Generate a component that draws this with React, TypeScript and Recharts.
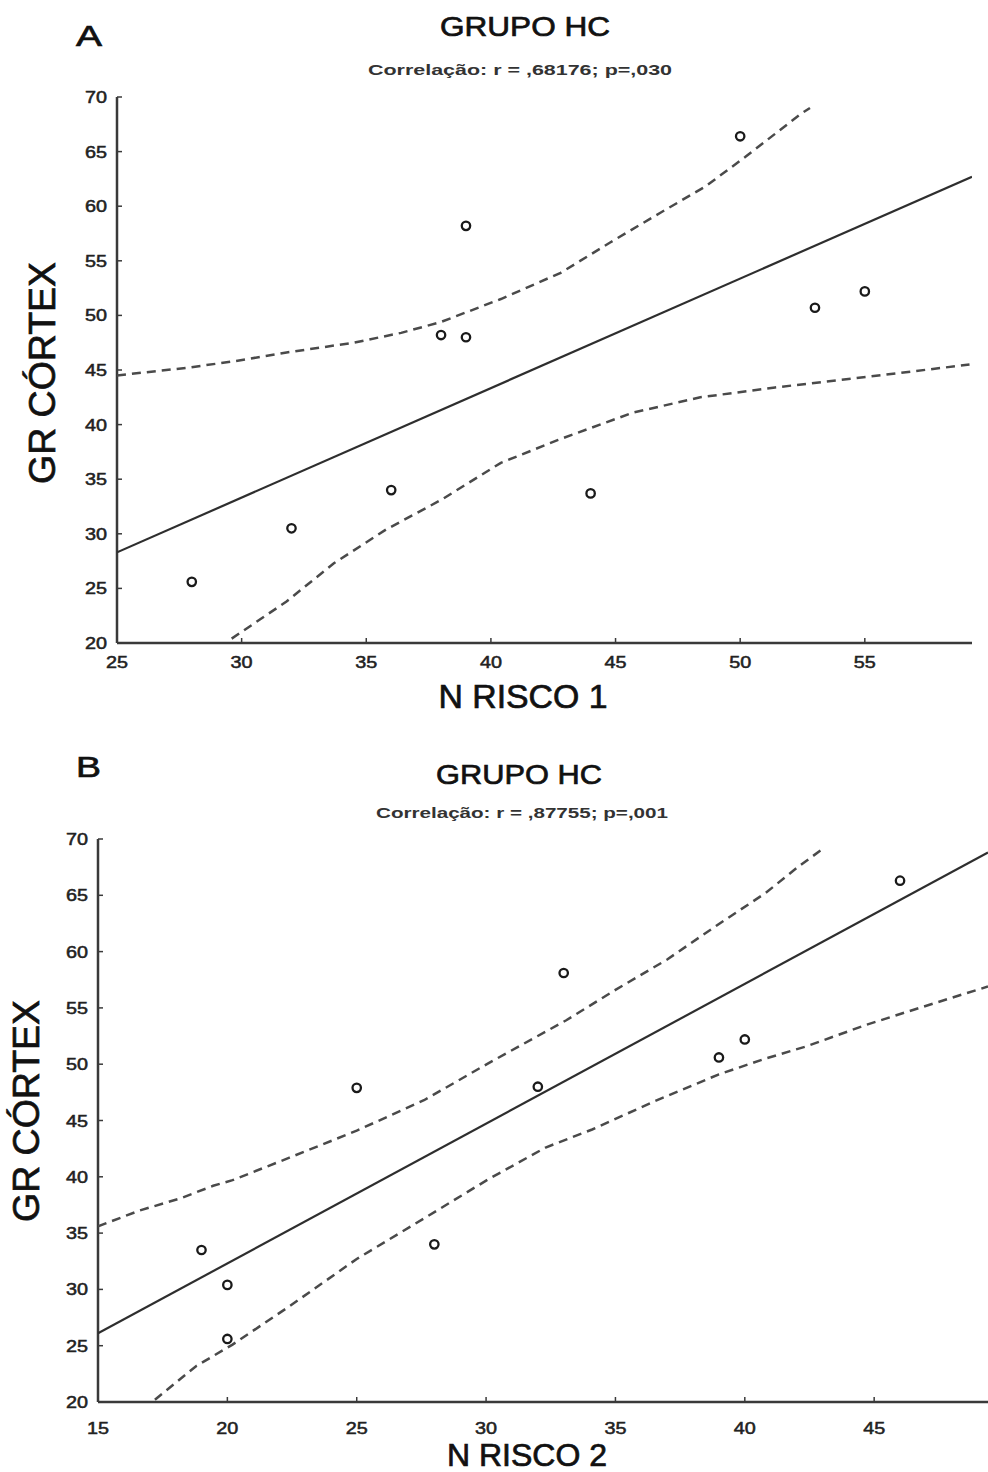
import React from 'react';
import { ScatterChart, Scatter, XAxis, YAxis } from 'recharts';

// ---- data ----
const nRisco1 = [28, 32, 36, 38, 39, 39, 44, 50, 53, 55];
const grCortexA = [25.6, 30.5, 34.0, 48.2, 58.2, 48.0, 33.7, 66.4, 50.7, 52.2];

const nRisco2 = [20, 20, 28, 25, 33, 32, 19, 46, 39, 40];
const grCortexB = [25.6, 30.4, 34.0, 47.9, 58.1, 48.0, 33.5, 66.3, 50.6, 52.2];

const regAx = [25, 59.3];
const regAy = [28.3, 62.7];
const upperAx = [25, 27.8, 29.7, 31.8, 34.5, 36.4, 38.0, 40.4, 42.8, 44.8, 46.8, 48.6, 50.2, 52.4, 52.8];
const upperAy = [44.5, 45.2, 45.8, 46.6, 47.5, 48.4, 49.4, 51.5, 53.9, 56.7, 59.4, 61.8, 64.5, 68.4, 69.0];
const lowerAx = [29.6, 31.8, 33.7, 35.8, 38.0, 40.4, 42.7, 45.7, 48.4, 51.4, 55.2, 59.2];
const lowerAy = [20.4, 23.8, 27.3, 30.4, 33.1, 36.5, 38.6, 41.1, 42.5, 43.4, 44.4, 45.5];

const regBx = [15, 49.4];
const regBy = [26.1, 68.8];
const upperBx = [15, 16.6, 18.2, 19.45, 20.2, 22.4, 25.0, 27.6, 30.1, 33.1, 35.0, 37.0, 38.9, 40.8, 42.1, 43.0];
const upperBy = [35.6, 37.0, 38.1, 39.2, 39.7, 41.7, 44.1, 46.8, 50.1, 53.9, 56.6, 59.3, 62.3, 65.2, 67.6, 69.1];
const lowerBx = [17.2, 18.8, 20.2, 22.4, 25.0, 27.6, 30.1, 32.3, 34.1, 36.5, 39.0, 40.8, 42.4, 44.7, 47.3, 49.4];
const lowerBy = [20.2, 23.2, 25.1, 28.5, 32.7, 36.3, 39.8, 42.6, 44.2, 46.7, 49.1, 50.5, 51.6, 53.5, 55.4, 56.9];

const yTicks = [20, 25, 30, 35, 40, 45, 50, 55, 60, 65, 70];
const xTicksA = [25, 30, 35, 40, 45, 50, 55];
const xTicksB = [15, 20, 25, 30, 35, 40, 45];

const zip = (xs: number[], ys: number[]) => xs.map((x, i) => ({ x, y: ys[i] }));

const FONT = '"Liberation Sans", Arial, sans-serif';
const AXIS = '#3a3a3a';

const YTick = (props: any) => {
  const { x, y, payload } = props;
  return (
    <text x={x} y={y} dy={6} textAnchor="end" fontSize={16} fontFamily={FONT} fill="#222"
      stroke="#222" strokeWidth={0.5} textLength={22} lengthAdjust="spacingAndGlyphs">
      {payload.value}
    </text>
  );
};

const makeXTick = (dy: number) => (props: any) => {
  const { x, y, payload } = props;
  return (
    <text x={x} y={y} dy={dy} textAnchor="middle" fontSize={16} fontFamily={FONT} fill="#222"
      stroke="#222" strokeWidth={0.5} textLength={22} lengthAdjust="spacingAndGlyphs">
      {payload.value}
    </text>
  );
};

const dot = (p: any) => <circle cx={p.cx} cy={p.cy} r={4.2} fill="#fff" stroke="#1a1a1a" strokeWidth={2.3} />;
const none = () => <g />;

const dashed = { stroke: '#4a4a4a', fill: 'none', strokeWidth: 2.5, strokeDasharray: '9 6' };
const solid = { stroke: '#2e2e2e', fill: 'none', strokeWidth: 2.2 };

type PanelProps = {
  width: number;
  height: number;
  margin: { top: number; right: number; bottom: number; left: number };
  xDomain: [number, number];
  xTicks: number[];
  xTickDy: number;
  points: { x: number; y: number }[];
  reg: { x: number; y: number }[];
  upper: { x: number; y: number }[];
  lower: { x: number; y: number }[];
};

function Panel(p: PanelProps) {
  return (
    <ScatterChart width={p.width} height={p.height} margin={p.margin}>
      <XAxis type="number" dataKey="x" domain={p.xDomain} ticks={p.xTicks} interval={0}
        allowDataOverflow height={30} tickSize={-5} tickMargin={10}
        axisLine={{ stroke: AXIS, strokeWidth: 2.5 }} tickLine={{ stroke: AXIS, strokeWidth: 1.5 }}
        tick={makeXTick(p.xTickDy)} />
      <YAxis type="number" dataKey="y" domain={[20, 70]} ticks={yTicks} interval={0}
        allowDataOverflow width={50} tickSize={-5} tickMargin={15}
        axisLine={{ stroke: AXIS, strokeWidth: 2.5 }} tickLine={{ stroke: AXIS, strokeWidth: 1.5 }}
        tick={<YTick />} />
      <Scatter data={p.upper} line={dashed} lineType="joint" shape={none} isAnimationActive={false} />
      <Scatter data={p.lower} line={dashed} lineType="joint" shape={none} isAnimationActive={false} />
      <Scatter data={p.reg} line={solid} lineType="joint" shape={none} isAnimationActive={false} />
      <Scatter data={p.points} shape={dot} isAnimationActive={false} />
    </ScatterChart>
  );
}

export default function App() {
  const heavy = { stroke: '#111', strokeWidth: 0.7 };
  return (
    <div style={{ position: 'absolute', left: 0, top: 0, width: 988, height: 1472, background: '#fff', overflow: 'hidden' }}>
      <div style={{ position: 'absolute', left: 0, top: 0 }}>
        <Panel width={988} height={720} margin={{ top: 97, right: 16, bottom: 47, left: 67 }}
          xDomain={[25, 59.3]} xTicks={xTicksA} xTickDy={20}
          points={zip(nRisco1, grCortexA)} reg={zip(regAx, regAy)}
          upper={zip(upperAx, upperAy)} lower={zip(lowerAx, lowerAy)} />
      </div>
      <div style={{ position: 'absolute', left: 0, top: 720 }}>
        <Panel width={988} height={752} margin={{ top: 119, right: 0, bottom: 40, left: 48 }}
          xDomain={[15, 49.4]} xTicks={xTicksB} xTickDy={27}
          points={zip(nRisco2, grCortexB)} reg={zip(regBx, regBy)}
          upper={zip(upperBx, upperBy)} lower={zip(lowerBx, lowerBy)} />
      </div>
      <svg width={988} height={1472} style={{ position: 'absolute', left: 0, top: 0, pointerEvents: 'none' }}
        fontFamily={FONT} fill="#111">
        <text x={76} y={46} fontSize={30} textLength={26} lengthAdjust="spacingAndGlyphs" {...heavy}>A</text>
        <text x={440} y={36} fontSize={28} textLength={170} lengthAdjust="spacingAndGlyphs" {...heavy}>GRUPO HC</text>
        <text x={368} y={75} fontSize={14} fontWeight="bold" fill="#333" textLength={304} lengthAdjust="spacingAndGlyphs">
          Correlação: r = ,68176; p=,030
        </text>
        <text x={523} y={708} fontSize={33} textAnchor="middle" textLength={169} lengthAdjust="spacingAndGlyphs" {...heavy}>N RISCO 1</text>
        <text transform="translate(55,373) rotate(-90)" fontSize={36} textAnchor="middle" textLength={222} lengthAdjust="spacingAndGlyphs" {...heavy}>GR CÓRTEX</text>

        <text x={76} y={777} fontSize={30} textLength={25} lengthAdjust="spacingAndGlyphs" {...heavy}>B</text>
        <text x={436} y={784} fontSize={28} textLength={166} lengthAdjust="spacingAndGlyphs" {...heavy}>GRUPO HC</text>
        <text x={376} y={818} fontSize={14} fontWeight="bold" fill="#333" textLength={292} lengthAdjust="spacingAndGlyphs">
          Correlação: r = ,87755; p=,001
        </text>
        <text x={527} y={1466} fontSize={31} textAnchor="middle" textLength={160} lengthAdjust="spacingAndGlyphs" {...heavy}>N RISCO 2</text>
        <text transform="translate(39,1111) rotate(-90)" fontSize={36} textAnchor="middle" textLength={222} lengthAdjust="spacingAndGlyphs" {...heavy}>GR CÓRTEX</text>
      </svg>
    </div>
  );
}
